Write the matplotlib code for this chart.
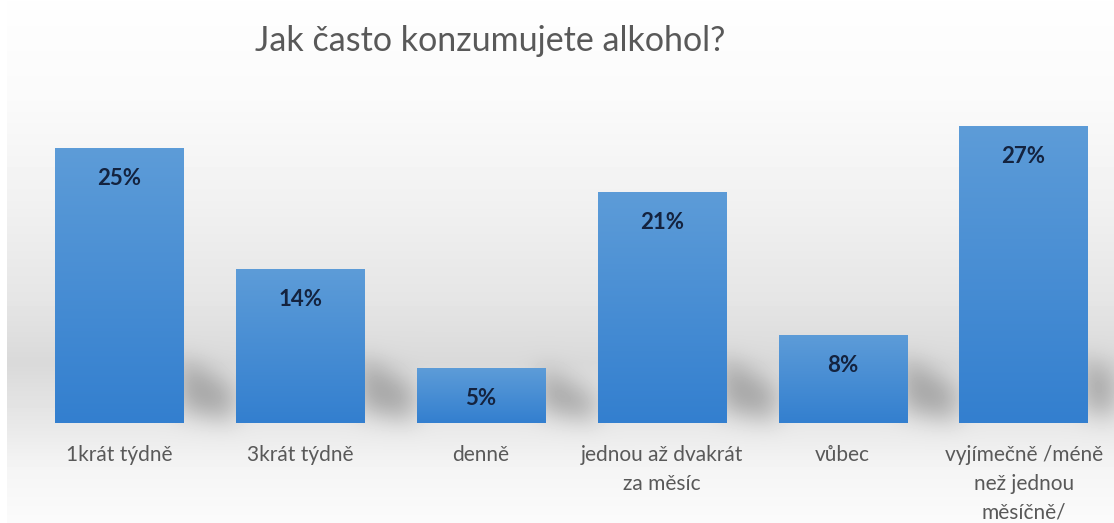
import matplotlib.pyplot as plt
import numpy as np
from matplotlib.path import Path

categories = ['1krát týdně', '3krát týdně', 'denně', 'jednou až dvakrát\nza měsíc',
              'vůbec', 'vyjímečně /méně\nnež jednou\nměsíčně/']
values = [25, 14, 5, 21, 8, 27]

W, H = 1114, 523
plt.rcParams['font.family'] = ['Lato', 'DejaVu Sans']

fig = plt.figure(figsize=(W / 100, H / 100), dpi=100)
ax = fig.add_axes([29 / W, 100 / H, 1 - 29 / W, 330 / H])
ax.set_facecolor('none')
ax.set_xlim(-0.5, len(values) - 0.5)
ax.set_ylim(0, 30)

x = np.arange(len(values))
bars = ax.bar(x, values, width=0.71, color='#4a8ed4', zorder=2)

# vertical blue gradient inside every bar
grad = np.linspace(0, 1, 256)[:, None]
top_c = np.array([0x5d, 0x9c, 0xd8]) / 255
bot_c = np.array([0x33, 0x7f, 0xcf]) / 255
bar_img = (top_c[None, None, :] * (1 - grad[..., None]) + bot_c[None, None, :] * grad[..., None])
for b in bars:
    x0, y0, w, h = b.get_x(), b.get_y(), b.get_width(), b.get_height()
    im = ax.imshow(bar_img, extent=[x0, x0 + w, y0, y0 + h], aspect='auto', zorder=2.1)
    im.set_clip_path(b)

for xi, v in zip(x, values):
    ax.annotate(f'{v}%', (xi, v), xytext=(0, -22), textcoords='offset points',
                ha='center', va='center', fontsize=16, fontweight='bold',
                color='#14233f', zorder=3)

ax.set_xticks(x)
ax.set_xticklabels(categories, fontsize=15, color='#595959', linespacing=1.55, va='top')
ax.tick_params(axis='x', length=0, pad=16)
ax.set_yticks([])
for s in ax.spines.values():
    s.set_visible(False)

# background: grey band behind the bars plus soft shadows to the right
rows = np.arange(H)
prof = np.interp(rows, [0, 100, 200, 300, 362, 420, 470, 523],
                 [255, 251, 242, 230, 218, 232, 246, 252])
bg = np.repeat(prof[:, None], W, axis=1).astype(float)
bg[:, :7] = 255

yy, xx = np.mgrid[0:H, 0:W]
pts = np.column_stack([xx.ravel() + 0.5, yy.ravel() + 0.5])
shade = np.zeros(H * W)
for b in bars:
    xr, yt = ax.transData.transform((b.get_x() + b.get_width(), b.get_height()))
    _, yb = ax.transData.transform((0, 0))
    xr, yt, yb = xr, H - yt, H - yb
    top = max(yt, yb - 65)
    poly = Path([(xr - 4, top), (xr - 4, yb - 12), (xr + 50, yb - 2),
                 (xr + 50, min(top + 30, yb - 4)), (xr - 4, top)])
    shade[poly.contains_points(pts)] = 1
shade = shade.reshape(H, W)

k = np.arange(-40, 41)
kern = np.exp(-k ** 2 / (2 * 12.0 ** 2))
kern /= kern.sum()
shade = np.apply_along_axis(lambda r: np.convolve(r, kern, mode='same'), 1, shade)
shade = np.apply_along_axis(lambda c: np.convolve(c, kern, mode='same'), 0, shade)
bg = bg - 60 * shade

bgax = fig.add_axes([0, 0, 1, 1], zorder=-1)
bgax.imshow(np.clip(bg, 0, 255).astype(np.uint8), cmap='gray', vmin=0, vmax=255, aspect='auto')
bgax.axis('off')

fig.text(490 / W, 1 - 41 / H, 'Jak často konzumujete alkohol?', ha='center', va='center',
         fontsize=24.5, color='#595959')

fig.savefig('out.png', dpi=100)
